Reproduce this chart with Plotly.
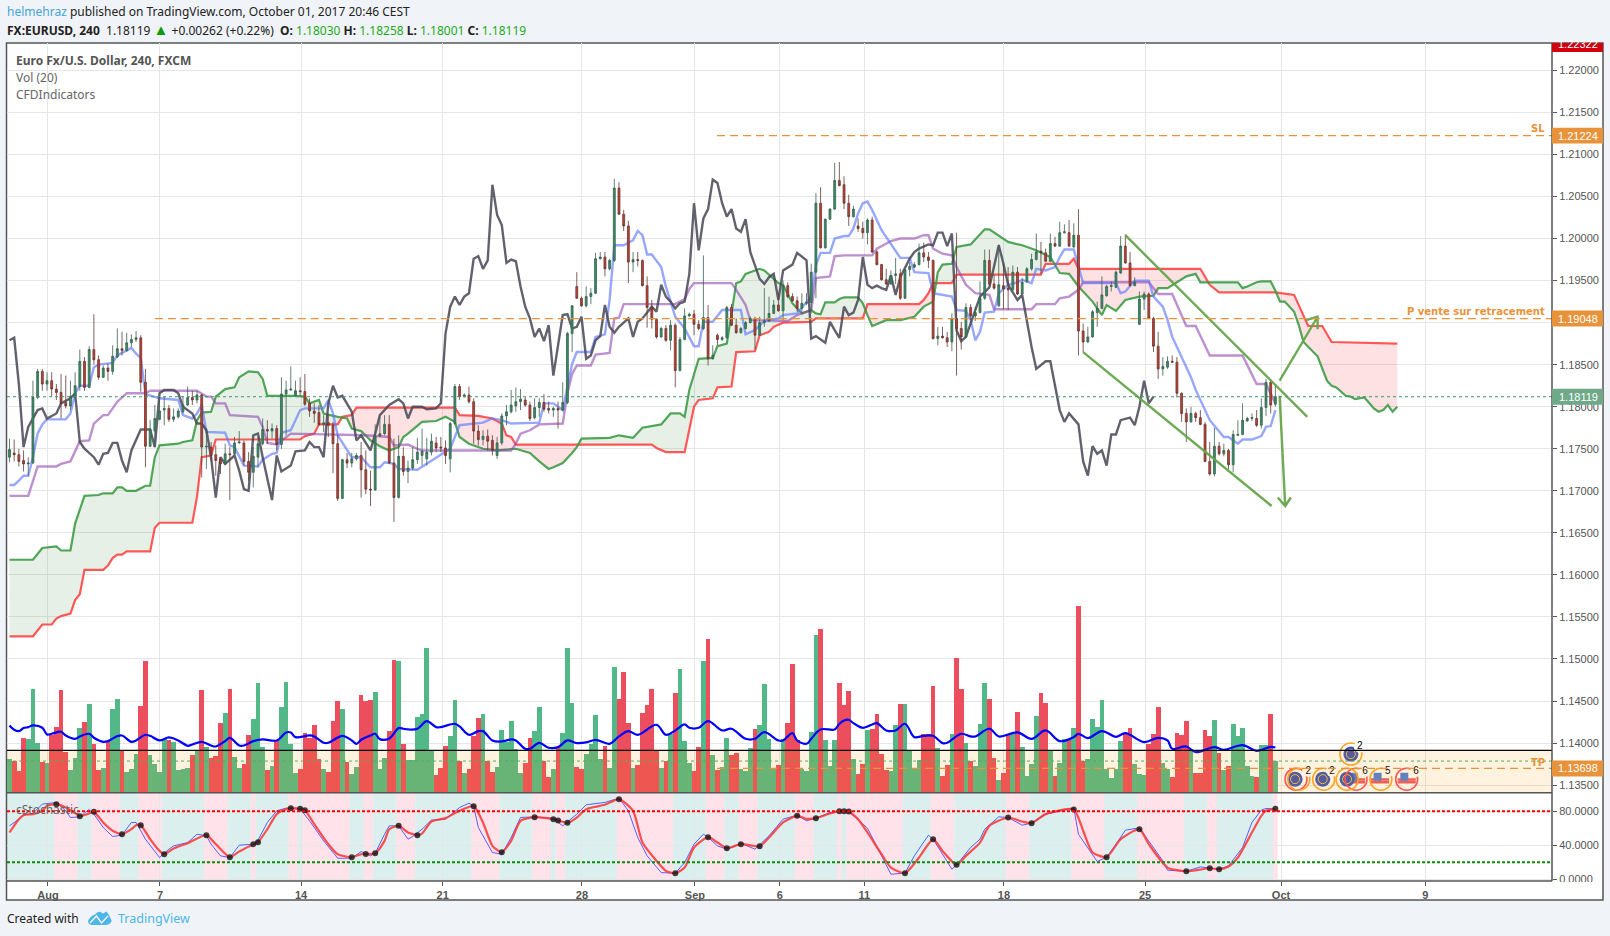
import numpy as np
import plotly.graph_objects as go

W = 1610
H = 936
# la capture comprime la page : la figure est un peu plus haute que la fenetre
FIG_H = 941
PAGE = '#f0f3f7'
GRID = '#e6e6e6'
FRAME = '#555555'
ORANGE = '#e8933a'

# bougies 240 min, prix en pips (11750 = 1.1750)
candle_open = [
    11740,11745,11743,11736,11732,11733,11811,11842,11827,11831,
    11821,11817,11805,11801,11812,11824,11854,11823,11868,11856,
    11835,11846,11842,11859,11869,11867,11876,11880,11882,11829,
    11753,11771,11785,11796,11798,11785,11788,11794,11802,11811,
    11808,11814,11752,11752,11743,11737,11732,11744,11744,11757,
    11757,11735,11722,11740,11756,11773,11771,11774,11755,11815,
    11820,11813,11819,11818,11804,11795,11793,11779,11781,11778,
    11756,11691,11737,11733,11738,11742,11725,11702,11701,11765,
    11768,11779,11733,11692,11741,11723,11727,11737,
    11742,11738,11746,11757,11752,11751,11738,11780,11824,11812,11814,11806,
    11771,11761,11765,11760,11742,11757,11789,11794,11801,11806,
    11808,11802,11787,11799,11805,11798,11796,11798,11796,11805,
    11887,11943,11929,11920,11931,11935,11976,11978,11964,11974,
    12060,12029,12015,11972,11975,11974,11944,11918,11904,11883,
    11893,11879,11897,11843,11880,11908,11910,11898,11893,11906,
    11857,11885,11880,11882,11918,11897,11888,11893,11900,11905,
    11885,11900,11902,11911,11921,11914,11944,11931,11926,11917,
    11923,11924,11960,12042,11989,12023,12035,12069,12064,12042,
    12026,12015,12012,12007,12022,11984,11969,11951,11946,11956,
    11958,11929,11963,11966,11969,11983,11978,11974,11881,11884,
    11882,11877,11905,11893,11883,11918,11908,11912,11929,11974,
    11946,11920,11944,11941,11939,11960,11934,11949,11964,11975,
    11985,11983,11973,11994,11991,12007,12007,11990,12004,11890,
    11877,11883,11912,11917,11932,11943,11942,11959,11991,11971,
    11944,11898,11928,11934,11905,11872,11845,11847,11854,11853,
    11816,11792,11782,11792,11787,11779,11735,11720,11753,11744,
    11748,11731,11766,11767,11783,11786,11786,11778,11799,11829,
    11803]
candle_close = [
    11749,11743,11735,11732,11733,11811,11842,11827,11831,11821,
    11817,11804,11801,11812,11825,11854,11823,11868,11856,11835,
    11846,11842,11860,11869,11867,11876,11880,11882,11829,11753,
    11773,11786,11795,11798,11785,11788,11795,11802,11811,11808,
    11814,11752,11753,11742,11736,11732,11744,11743,11757,11758,
    11735,11722,11741,11756,11773,11771,11774,11755,11815,11820,
    11821,11819,11818,11803,11795,11792,11779,11781,11778,11756,
    11691,11737,11733,11738,11742,11725,11702,11701,11765,11768,
    11779,11733,11692,11741,11723,11727,11737,11746,
    11747,11746,11759,11751,11751,11742,11780,11824,11812,11814,11806,11771,
    11761,11765,11759,11748,11757,11789,11794,11802,11806,11809,
    11802,11786,11799,11805,11797,11796,11798,11796,11805,11887,
    11920,11929,11920,11931,11935,11976,11978,11964,11974,12060,
    12029,12015,11972,11975,11974,11944,11918,11904,11883,11893,
    11879,11897,11843,11880,11908,11910,11898,11893,11906,11857,
    11861,11880,11882,11918,11897,11888,11893,11900,11905,11885,
    11900,11902,11911,11921,11914,11944,11931,11926,11917,11923,
    11924,11960,12042,11989,12023,12035,12069,12063,12042,12026,
    12035,12012,12007,12022,11984,11969,11951,11946,11956,11958,
    11929,11963,11967,11969,11983,11978,11974,11881,11884,11882,
    11877,11905,11893,11883,11918,11908,11912,11929,11974,11946,
    11941,11945,11940,11939,11960,11934,11948,11964,11975,11984,
    11983,11973,11994,11991,12007,12008,11991,12004,11890,11877,
    11883,11913,11917,11933,11943,11944,11960,11991,11971,11944,
    11948,11928,11934,11905,11872,11845,11848,11854,11853,11816,
    11792,11782,11792,11787,11779,11735,11720,11753,11744,11748,
    11731,11767,11767,11784,11786,11787,11778,11799,11829,11802,
    11812]
candle_high = [
    11762,11761,11750,11748,11740,11831,11845,11845,11841,11841,
    11827,11839,11837,11831,11841,11868,11859,11872,11910,11861,
    11849,11851,11873,11893,11889,11888,11886,11890,11885,11845,
    11784,11802,11808,11812,11802,11798,11798,11812,11824,11819,
    11819,11815,11774,11758,11754,11740,11756,11752,11764,11771,
    11760,11746,11752,11764,11786,11784,11780,11778,11835,11831,
    11848,11831,11835,11839,11810,11804,11802,11790,11790,11782,
    11766,11738,11745,11745,11745,11758,11748,11724,11779,11788,
    11790,11790,11762,11766,11752,11736,11752,11763,
    11774,11763,11768,11764,11764,11760,11782,11827,11827,11816,11824,11810,
    11778,11772,11773,11766,11764,11792,11802,11820,11823,11821,
    11812,11806,11810,11810,11815,11806,11800,11806,11829,11889,
    11921,11960,11931,11943,11941,11983,11984,11984,11976,12071,
    12067,12034,12021,11984,11984,11975,11955,11927,11905,11895,
    11897,11903,11899,11883,11917,11912,11915,11903,11980,11921,
    11873,11887,11884,11920,11922,11905,11895,11902,11907,11907,
    11907,11941,11931,11927,11935,11950,11948,11935,11931,11935,
    11935,11970,12054,12061,12024,12036,12090,12091,12074,12052,
    12039,12024,12020,12024,12026,11986,11970,11964,11962,11977,
    11964,11964,11972,11972,11994,11995,11984,11975,11895,11895,
    11889,11911,12007,11901,11923,11922,11919,11949,11987,11987,
    11957,11993,11970,11966,11968,11966,11953,11966,11982,12006,
    11996,11988,12006,12002,12020,12017,12022,12018,12035,11899,
    11895,11915,11925,11955,11945,11949,11962,12003,12005,11984,
    11954,11937,11937,11936,11907,11889,11859,11860,11861,11859,
    11817,11798,11800,11794,11796,11782,11758,11775,11758,11756,
    11750,11772,11784,11804,11788,11792,11796,11810,11833,11831,
    11826]
candle_low = [
    11734,11735,11729,11723,11718,11732,11809,11819,11819,11812,
    11808,11786,11798,11796,11811,11819,11819,11822,11850,11832,
    11834,11831,11838,11858,11861,11865,11871,11877,11818,11728,
    11752,11752,11784,11778,11782,11782,11786,11792,11801,11802,
    11804,11716,11726,11735,11718,11720,11731,11689,11743,11756,
    11730,11712,11704,11728,11754,11756,11762,11748,11750,11766,
    11819,11812,11813,11801,11788,11781,11777,11770,11764,11721,
    11688,11690,11727,11728,11736,11692,11696,11682,11700,11764,
    11766,11732,11663,11691,11718,11709,11725,11732,
    11730,11730,11742,11746,11746,11732,11722,11778,11808,11811,11804,11756,
    11754,11754,11748,11742,11738,11754,11778,11792,11794,11796,
    11800,11783,11785,11788,11794,11792,11788,11774,11795,11803,
    11865,11928,11919,11918,11922,11934,11975,11955,11962,11972,
    12028,12009,11947,11960,11967,11943,11894,11893,11881,11882,
    11877,11867,11823,11842,11879,11907,11885,11891,11891,11849,
    11856,11873,11878,11881,11896,11887,11887,11892,11899,11868,
    11884,11895,11901,11910,11913,11903,11929,11925,11913,11911,
    11921,11911,11929,11988,11988,12022,12034,12062,12035,12015,
    12025,12008,12000,11993,11983,11968,11950,11945,11945,11946,
    11927,11928,11955,11965,11968,11972,11965,11880,11873,11881,
    11871,11866,11837,11868,11882,11903,11902,11911,11927,11943,
    11939,11919,11916,11915,11938,11933,11933,11947,11962,11974,
    11958,11972,11972,11990,11990,12006,11990,11989,11861,11865,
    11876,11882,11895,11916,11931,11937,11941,11958,11970,11943,
    11943,11897,11915,11904,11865,11833,11837,11845,11852,11811,
    11782,11758,11781,11782,11778,11734,11718,11717,11742,11741,
    11726,11722,11765,11766,11782,11783,11776,11774,11789,11792,
    11800]

# volume (20)
volume = [
    100,96,64,163,160,310,148,91,88,172,196,307,121,67,103,193,211,265,145,67,
    73,154,250,280,124,61,70,115,259,394,112,85,61,160,157,151,67,72,75,112,
    127,307,136,103,109,208,238,310,106,73,85,172,220,328,136,67,79,154,256,331,
    145,58,70,178,163,202,100,70,61,214,274,250,91,55,76,292,274,277,301,70,
    103,184,397,394,145,97,97,226,235,433,129,52,73,139,169,277,94,58,70,169,
    223,235,94,61,76,187,151,214,130,58,88,163,184,256,94,46,70,137,178,433,
    268,76,70,115,145,232,100,139,73,376,280,361,208,73,82,238,262,310,127,73,
    96,175,298,370,154,88,64,136,394,460,112,67,76,163,112,118,72,64,133,190,
    202,325,160,72,82,162,208,385,157,70,65,181,472,490,157,79,157,328,
    262,304,100,55,85,187,190,235,115,67,64,202,265,265,124,70,97,175,175,319,
    133,49,82,175,403,310,148,94,79,205,328,280,103,37,58,172,177,241,136,49,
    85,229,298,268,124,49,88,160,162,193,559,96,100,220,196,277,70,43,70,154,
    178,193,85,55,52,145,175,256,88,70,46,178,172,214,127,58,58,187,169,217,
    118,67,79,205,169,193,79,49,46,144,144,237,96]

vol_ma_x = [0,1,2,3,4,5,7,8,9,11,12,14,15,17,18,20,21,23,24,26,27,29,30,32,34,36,38,39,41,43,44,46,47,49,50,52,54,57,59,60,61,64,65,67,68,71,73,74,75,77,78,79,81,83,84,85,87,
            89,91,92,95,96,98,100,101,103,105,107,108,110,111,113,115,117,119,121,123,125,128,130,132,134,138,140,142,144,145,147,149,152,154,157,159,161,164,165,167,168,170,171,173,176,177,
            178,179,180,182,184,185,187,189,191,193,195,197,199,200,203,205,206,209,211,215,218,221,224,227,228,230,233,236,238,242,245,247,248,251,253,257,259,263,266,269,270]
vol_ma_y = [202,189,185,194,197,202,195,175,177,183,172,162,169,177,165,153,155,170,172,153,157,174,171,157,166,157,141,145,153,142,139,155,165,142,142,155,160,157,181,181,167,172,169,150,150,171,157,147,159,172,177,161,163,194,192,190,192,
            215,197,197,207,199,174,185,185,157,154,160,157,132,132,150,135,137,157,149,151,159,147,169,185,174,204,174,187,205,195,195,215,187,192,162,162,182,157,157,179,157,147,162,190,190,207,
            217,219,209,195,205,209,187,187,207,167,171,171,149,150,177,169,169,192,169,181,162,187,155,167,177,164,185,168,179,152,165,157,132,139,122,137,129,143,126,138,136]

# ichimoku : tenkan, kijun, spans, chikou
tenkan_x = [0,1,2,3,4,5,6,7,8,12,13,14,15,17,18,19,22,23,26,27,28,29,32,36,37,39,40,41,42,46,47,48,50,53,54,56,57,58,60,62,63,67,68,69,70,73,75,77,79,80,82,83,87,
            94,96,99,101,103,105,107,113,114,116,118,120,121,124,125,127,128,129,131,133,134,135,136,137,139,140,142,144,146,147,148,150,152,156,157,159,161,164,165,168,171,172,173,175,176,
            178,179,180,181,182,183,184,186,188,190,192,193,196,197,201,202,204,205,206,207,208,210,211,213,215,216,218,219,221,223,224,225,227,228,229,236,237,238,240,243,244,246,247,248,250,252,253,255,256,259,260,262,263,265,267,268,269,270]
tenkan_y = [11707,11707,11712,11718,11718,11740,11768,11779,11785,11785,11792,11816,11825,11825,11847,11850,11852,11861,11870,11863,11858,11815,11810,11808,11790,11786,11792,11802,11770,11769,11754,11752,11730,11729,11737,11744,11745,11769,11772,11796,11798,11798,11808,11792,11766,11740,11740,11728,11728,11734,11732,11726,11725,
            11750,11778,11780,11781,11786,11784,11780,11781,11804,11804,11796,11851,11865,11865,11883,11886,11927,11992,11992,11998,12009,12004,11981,11981,11966,11943,11907,11893,11872,11872,11901,11901,11915,11915,11886,11891,11902,11905,11909,11911,11931,11968,11983,11983,12000,
            12003,12003,12012,12030,12042,12044,12034,12010,11994,11977,11977,11960,11959,11935,11931,11915,11914,11903,11879,11889,11912,11913,11935,11945,11948,11951,11947,11964,11962,11966,11978,11987,11987,11966,11947,11947,11935,11937,11950,11950,11931,11919,11903,11883,11859,11835,11820,11796,11784,11764,11764,11756,11761,11761,11765,11776,11777,11796]
kijun_x = [0,4,6,10,11,13,15,17,18,20,21,23,25,29,30,40,42,43,44,46,47,53,54,55,57,60,76,81,82,85,87,
           88,107,108,109,111,113,118,119,120,121,124,125,128,129,130,131,142,144,145,146,154,155,157,158,166,168,171,172,175,176,
           178,184,185,188,190,193,195,196,197,199,201,202,204,206,209,210,218,219,223,224,226,228,229,243,245,248,251,253,256,263,266,268,270]
kijun_y = [11694,11694,11729,11729,11732,11735,11759,11760,11780,11790,11790,11806,11816,11816,11819,11819,11812,11812,11804,11804,11790,11788,11776,11757,11755,11768,11766,11764,11754,11755,11750,
           11748,11748,11756,11768,11772,11779,11780,11816,11839,11849,11849,11862,11864,11905,11906,11922,11922,11928,11940,11947,11947,11939,11921,11903,11902,11909,11915,11953,11955,11979,
           11980,11980,11988,11997,12000,12000,12004,12004,11988,11982,11980,11966,11945,11935,11933,11916,11916,11922,11922,11929,11931,11939,11948,11948,11934,11934,11896,11896,11861,11861,11827,11827,11804]
span_b_x = [0,5,7,9,10,11,13,14,15,16,20,21,22,23,24,25,30,31,32,39,40,41,43,44,62,63,65,66,70,71,73,74,
            95,96,100,103,105,106,107,108,137,138,140,144,146,147,150,151,154,155,159,160,162,163,165,171,172,182,183,194,195,196,197,201,202,220,221,226,227,228,254,256,258,270,274,277,280,282,296]
span_b_y = [11527,11527,11541,11541,11548,11551,11554,11570,11577,11606,11606,11611,11620,11624,11624,11628,11628,11656,11662,11662,11693,11740,11742,11761,11761,11765,11768,11779,11779,11788,11790,11799,
            11799,11790,11789,11786,11780,11766,11764,11755,11755,11751,11746,11746,11800,11808,11810,11823,11824,11865,11866,11885,11889,11895,11900,11901,11905,11905,11922,11922,11927,11935,11947,11947,11957,11957,11970,11970,11976,11964,11964,11945,11936,11936,11933,11896,11896,11877,11875]
span_a_x = [0,5,7,10,11,13,14,16,19,20,22,23,24,25,27,29,30,31,32,36,37,39,40,41,43,44,46,48,49,51,53,54,55,61,63,64,66,67,70,72,73,75,77,79,81,83,84,85,88,
            91,93,95,96,98,101,104,108,111,113,115,116,118,120,121,122,128,130,133,135,139,141,143,144,145,147,150,151,153,155,156,157,160,161,164,165,167,169,171,172,173,174,176,177,
            178,181,182,183,184,187,190,193,195,197,198,199,201,202,205,208,209,213,216,219,221,222,224,226,228,231,233,234,236,238,241,244,245,247,251,253,254,262,263,264,266,267,269,270,271,272,274,275,276,279,281,282,283,285,286,287,289,291,292,293,294,295,296]
span_a_y = [11618,11618,11632,11634,11629,11629,11661,11694,11695,11697,11697,11704,11704,11700,11700,11706,11706,11740,11754,11756,11758,11760,11784,11793,11794,11812,11821,11823,11835,11842,11841,11833,11813,11813,11812,11804,11808,11792,11788,11786,11774,11771,11760,11753,11748,11752,11764,11768,11782,
            11783,11788,11782,11764,11756,11750,11748,11750,11745,11735,11726,11728,11733,11745,11752,11762,11763,11766,11763,11775,11779,11792,11792,11788,11820,11857,11858,11872,11875,11947,11949,11958,11964,11962,11947,11945,11923,11911,11915,11911,11910,11924,11924,11928,
            11930,11930,11923,11909,11896,11903,11903,11907,11919,11925,11960,11969,11970,11990,11993,12011,12011,11996,11992,11986,11980,11978,11959,11958,11943,11925,11909,11921,11914,11927,11931,11932,11941,11941,11955,11958,11948,11948,11941,11943,11948,11949,11949,11938,11925,11925,11913,11897,11877,11860,11831,11825,11823,11813,11812,11809,11811,11798,11794,11796,11802,11794,11800]
chikou_x = [0,1,2,3,4,6,7,8,10,11,13,14,15,16,18,19,20,21,22,23,24,25,26,28,30,31,32,33,35,36,37,39,40,41,42,43,44,45,46,48,49,50,51,52,53,54,56,57,58,60,61,63,64,65,66,67,68,69,70,71,73,74,75,77,78,79,81,83,84,85,86,88,
            89,91,92,93,94,95,96,97,98,99,100,101,102,103,104,105,106,107,108,109,110,111,112,113,114,115,116,118,119,120,121,122,123,124,125,126,127,128,129,130,132,133,134,135,137,138,139,140,141,142,143,144,145,146,147,148,149,150,151,152,153,154,155,156,157,158,159,160,161,162,163,164,165,167,168,170,171,172,174,175,176,177,
            178,179,180,181,182,183,184,185,186,187,188,189,190,192,193,194,196,197,198,199,200,201,202,203,204,206,207,209,211,212,213,215,216,218,219,221,222,224,225,226,228,229,230,231,232,233,234,235,236,237,239,240,241,242,243,244]
chikou_y = [11879,11882,11827,11752,11776,11796,11798,11786,11792,11804,11810,11816,11758,11750,11740,11731,11744,11745,11757,11757,11736,11722,11748,11773,11773,11752,11816,11820,11820,11816,11800,11792,11780,11780,11772,11740,11692,11740,11732,11742,11724,11702,11700,11766,11768,11740,11689,11742,11723,11730,11747,11748,11758,11752,11752,11740,11804,11825,11811,11813,11794,11760,11766,11748,11768,11790,11802,11809,11804,11786,11800,11800,
            11797,11798,11804,11887,11919,11931,11921,11931,11935,11976,11979,11964,11974,12064,12028,12016,11971,11975,11973,11943,11919,11905,11883,11893,11878,11897,11837,11909,11910,11893,11895,11907,11857,11861,11879,11884,11921,11895,11888,11895,11905,11883,11901,11905,11919,11913,11945,11931,11925,11917,11923,11925,11958,12042,11986,12024,12035,12070,12066,12042,12026,12035,12012,12008,12023,11984,11968,11952,11946,11954,11958,11927,11962,11969,11983,11974,11881,11884,11876,11901,11891,11882,
            11919,11909,11912,11927,11978,11945,11941,11944,11941,11939,11956,11933,11954,11976,11984,11988,11993,11992,12007,12007,11991,12006,11891,11878,11883,11915,11931,11942,11992,11970,11945,11927,11933,11871,11845,11854,11854,11796,11782,11792,11779,11735,11718,11753,11744,11748,11730,11767,11767,11784,11787,11778,11800,11831,11804,11812]

# stochastique
k_x = [0,2,3,5,7,10,12,13,15,17,18,20,22,24,26,27,29,32,34,35,38,40,42,43,45,47,49,52,53,55,57,59,62,64,67,70,73,75,77,78,80,81,83,85,86,
       88,90,93,96,98,99,100,103,105,107,109,112,116,118,121,123,127,130,132,134,136,139,142,144,146,148,149,151,153,156,159,162,165,168,170,172,175,177,
       178,179,183,188,191,193,196,197,201,202,205,207,208,211,213,216,218,221,227,228,232,234,236,238,241,246,247,251,254,258,260,263,265,267,268,270]
k_y = [62.7,70.6,75.7,77.3,88.2,90.2,80.4,72.5,73.3,82,76.5,60.8,50.2,51.8,66.7,66.7,47.1,25.5,35.3,39.2,43.1,52.9,51,41.2,27.5,25.5,40,41.2,45.9,66.7,80.4,83.5,82.4,68.6,45.1,24.7,24.7,32.5,27.5,30.6,52.9,62.7,62.7,47.1,50.2,
       58.8,69.4,70.6,84.3,89.4,85.9,60.8,31.4,29.4,49,72.5,73.3,71.4,62.7,76.5,87.5,90.2,95.3,80.4,49,27.5,7.8,7.1,19.6,41.2,52.9,49.4,39.2,35.3,42.4,35.3,51,70.6,75.3,68.6,71.8,78.4,80,
       80,79.6,60,5.9,7.1,27.5,51.8,47.1,11.8,16.9,37.3,47.1,58.8,73.3,72.5,63.5,65.9,76.5,83.5,52.9,20.8,25.9,41.2,57.6,60.4,21.6,10.6,9.4,14.5,11.8,15.7,37.3,66.7,81.2,83.1,82.7]
d_x = [0,2,3,5,7,8,10,12,14,15,17,18,20,22,24,26,27,28,30,32,33,35,38,42,44,47,49,52,53,55,57,59,60,62,63,65,68,70,73,75,78,80,81,83,85,87,
       88,90,93,96,99,101,103,105,107,109,112,116,117,119,121,123,127,130,133,135,138,140,142,144,146,149,151,153,156,160,162,165,168,170,172,175,177,
       178,179,181,183,186,188,191,194,197,199,202,204,207,209,213,216,218,221,227,229,231,234,237,241,243,247,251,256,258,260,262,265,267,268,270]
d_y = [54.9,70.6,75.3,76.5,80.4,86.3,88.2,84.3,77.6,74.1,77.3,79.2,66.7,56.9,52.9,58.8,63.5,63.5,47.1,33.3,29.4,36.1,42.4,51.8,41.2,25.9,32.5,41.2,43.5,58.8,76.5,82.4,83.5,82.7,81.2,64.7,41.2,29.4,25.9,29.4,30.6,45.1,58.8,62.7,54.9,51.8,
       53.7,67.8,71.8,80.4,85.9,66.7,39.2,31.8,45.1,68.6,72.9,70.6,69,66.3,72.5,82.4,87.5,94.1,80.4,43.1,21.6,9.8,7.1,13.7,37.3,49.4,43.1,36.5,41.2,38.8,49,66.7,74.5,71,71.8,77.3,80,
       80,79.6,70.6,54.9,29.4,13.7,7.1,25.5,47.1,33.3,16.9,27.5,43.1,62.7,72.5,67.8,65.9,76.5,82,56.9,31.4,25.9,47.1,58.8,41.2,13.7,9.4,12.9,11.8,15,25.5,54.9,74.5,80.4,82.7]
cross_bars = [10,15,18,24,28,33,42,47,52,53,60,62,63,73,76,78,83,87,99,105,112,116,117,119,130,142,149,153,156,160,168,172,177,178,179,191,197,202,213,218,227,234,241,251,256,258,270]
# bandes de fond (bleu/rose en alternance)
stripe_edges = [-0.5,9.5,14.5,17.5,23.5,27.5,32.5,41.5,46.5,51.5,52.5,59.5,61.5,62.5,72.5,75.5,77.5,82.5,86.5,98.5,104.5,111.5,115.5,116.5,118.5,129.5,141.5,148.5,152.5,155.5,159.5,167.5,171.5,176.5,177.5,178.5,190.5,196.5,201.5,212.5,217.5,226.5,233.5,240.5,250.5,255.5,257.5,269.5,270.5]

# dessins
upper_trend_x = [238, 276.8]
upper_trend_y = [12004, 11788]
lower_trend_x = [229, 269.2]
lower_trend_y = [11865, 11682]
arrow_up_x = [270.9, 279, 276.5, 279, 279]
arrow_up_y = [11831, 11907, 11903, 11907, 11892]
arrow_down_x = [270.9, 272.1, 270.5, 272.1, 273.3]
arrow_down_y = [11813, 11682, 11692, 11682, 11692]

SL = 1.21224
ENTRY = 1.19048
TP = 1.13698
LAST = 1.18119
HIGH_LABEL = 1.22322
VOL_LINE = 1.13912
VOL_DOT = 1.13786

tick_bars = [8.2, 32.1, 62.2, 92.4, 122.1, 146.2, 164.3, 182.3, 212.1, 242.2, 271.2, 302]
tick_names = ['Aug', '7', '14', '21', '28', 'Sep', '6', '11', '18', '25', 'Oct', '9']
price_ticks = [1.135 + 0.005 * n for n in range(18)]
# 1.19000 est cache par l'etiquette 1.19048 dans l'original
price_tick_text = ['' if abs(t - 1.19) < 1e-6 else f'{t:.5f}' for t in price_ticks]

# calendrier economique
eu_x = [274.2, 280.1, 285.3, 286.1]
eu_y = [1.13571, 1.13571, 1.13571, 1.13869]
us_x = [287.2, 292.3, 298]
us_y = [1.13571, 1.13571, 1.13571]
ring_red_x = [274.4, 287.2, 298]
ring_red_y = [1.13571, 1.13571, 1.13571]
ring_orange_x = [275, 280.3, 285.3, 292.5, 286.1]
ring_orange_y = [1.13571, 1.13571, 1.13571, 1.13571, 1.13869]
badge_x = [277, 282.1, 289.1, 294, 300, 288]
badge_y = [1.13667, 1.13667, 1.13667, 1.13667, 1.13667, 1.13957]
badge_text = ['2', '2', '6', '5', '6', '2']


def px(x):
    return x / W


def py(y):
    return 1 - y / H


def price(values):
    return np.array(values) / 10000


bars = np.arange(len(candle_open))
up = np.array(candle_close) >= np.array(candle_open)
X_RANGE = [-0.53, 329]
PRICE_RANGE = [1.13408, 1.22325]

fig = go.Figure()

# nuage
grid = np.arange(0, 296.01, 0.25)
edge_a = np.interp(grid, span_a_x, price(span_a_y))
edge_b = np.interp(grid, span_b_x, price(span_b_y))
above = edge_a >= edge_b
start = 0
for n in range(1, len(grid) + 1):
    if n == len(grid) or above[n] != above[start]:
        part = np.arange(start, min(n + 1, len(grid)))
        fig.add_trace(go.Scatter(
            x=np.r_[grid[part], grid[part][::-1]],
            y=np.r_[edge_a[part], edge_b[part][::-1]],
            mode='none', fill='toself', hoverinfo='skip', showlegend=False,
            fillcolor='rgba(76,150,76,0.14)' if above[start] else 'rgba(244,67,80,0.16)'))
        start = n

lines = [
    (span_b_x, span_b_y, 'rgba(255,60,60,0.85)', 2.2),
    (span_a_x, span_a_y, 'rgba(50,150,60,0.85)', 2.2),
    (kijun_x, kijun_y, 'rgba(145,70,175,0.6)', 2.4),
    (tenkan_x, tenkan_y, 'rgba(95,120,255,0.65)', 2.4),
    (chikou_x, chikou_y, 'rgba(70,70,85,0.85)', 2.4),
]
for lx, ly, col, lw in lines:
    fig.add_trace(go.Scatter(x=lx, y=price(ly), mode='lines', line=dict(color=col, width=lw),
                             hoverinfo='skip', showlegend=False))

# volume
fig.add_trace(go.Bar(x=bars, y=volume, width=1, yaxis='y3', hoverinfo='skip', showlegend=False,
                     marker=dict(color=np.where(up, '#52b888', '#ec4e5e').tolist(), line_width=0)))
fig.add_trace(go.Scatter(x=vol_ma_x, y=vol_ma_y, yaxis='y3', mode='lines', hoverinfo='skip', showlegend=False,
                         line=dict(color='#0000ff', width=2.2, shape='spline')))

# bougies au dessus des lignes
fig.add_trace(go.Candlestick(x=bars, open=price(candle_open), high=price(candle_high),
                             low=price(candle_low), close=price(candle_close), yaxis='y4',
                             increasing=dict(line=dict(color='#3d5f50', width=0.8), fillcolor='#2f9065'),
                             decreasing=dict(line=dict(color='#5f3a34', width=0.8), fillcolor='#d0392c'),
                             whiskerwidth=0, hoverinfo='skip', showlegend=False))

# lignes de tendance et fleches
for lx, ly in [(upper_trend_x, upper_trend_y), (lower_trend_x, lower_trend_y),
               (arrow_up_x, arrow_up_y), (arrow_down_x, arrow_down_y)]:
    fig.add_trace(go.Scatter(x=lx, y=price(ly), yaxis='y4', mode='lines', hoverinfo='skip', showlegend=False,
                             line=dict(color='rgba(100,165,75,0.95)', width=2.4)))

# stochastique
fig.add_trace(go.Scatter(x=k_x, y=k_y, yaxis='y2', mode='lines', hoverinfo='skip', showlegend=False,
                         line=dict(color='rgba(60,70,255,0.85)', width=1)))
fig.add_trace(go.Scatter(x=d_x, y=d_y, yaxis='y2', mode='lines', hoverinfo='skip', showlegend=False,
                         line=dict(color='rgba(255,50,50,0.85)', width=2.2, shape='spline', smoothing=0.6)))
fig.add_trace(go.Scatter(x=cross_bars, y=np.interp(cross_bars, d_x, d_y), yaxis='y2', mode='markers',
                         hoverinfo='skip', showlegend=False,
                         marker=dict(color='rgba(20,20,20,0.8)', size=6)))

# icones
fig.add_trace(go.Scatter(x=us_x, y=us_y, yaxis='y4', mode='markers', hoverinfo='skip', showlegend=False,
                         marker=dict(color='white', size=16)))
for shift in (-0.00005, -0.00038):
    fig.add_trace(go.Scatter(x=us_x, y=np.array(us_y) + shift, yaxis='y4', mode='markers', hoverinfo='skip',
                             showlegend=False,
                             marker=dict(symbol='line-ew', size=13, line=dict(color='#ef5560', width=2.5))))
fig.add_trace(go.Scatter(x=np.array(us_x) - 0.5, y=np.array(us_y) + 0.00028, yaxis='y4', mode='markers',
                         hoverinfo='skip', showlegend=False,
                         marker=dict(color='#4a7fd6', symbol='square', size=8)))
fig.add_trace(go.Scatter(x=eu_x, y=eu_y, yaxis='y4', mode='markers', hoverinfo='skip', showlegend=False,
                         marker=dict(color='#3f51b5', size=15)))
fig.add_trace(go.Scatter(x=eu_x, y=eu_y, yaxis='y4', mode='markers', hoverinfo='skip', showlegend=False,
                         marker=dict(color='rgba(0,0,0,0)', size=9, line=dict(color='#e0c850', width=1))))
fig.add_trace(go.Scatter(x=ring_red_x, y=ring_red_y, yaxis='y4', mode='markers', hoverinfo='skip', showlegend=False,
                         marker=dict(symbol='circle-open', color='#ff4a68', size=22, line=dict(width=1.5))))
fig.add_trace(go.Scatter(x=ring_orange_x, y=ring_orange_y, yaxis='y4', mode='markers', hoverinfo='skip', showlegend=False,
                         marker=dict(symbol='circle-open', color='#ffa726', size=22, line=dict(width=1.5))))
fig.add_trace(go.Scatter(x=badge_x, y=badge_y, yaxis='y4', mode='markers+text', text=badge_text,
                         textposition='middle center', hoverinfo='skip', showlegend=False,
                         textfont=dict(family='Liberation Sans', size=10, color='black'),
                         marker=dict(color='white', size=12)))

shapes = [
    # cadre
    dict(type='rect', xref='paper', yref='paper', x0=px(6.5), x1=px(1603), y0=py(899), y1=py(43),
         fillcolor='white', line=dict(color=FRAME, width=1.5), layer='below'),
]
for n in range(len(stripe_edges) - 1):
    shapes.append(dict(type='rect', xref='x', yref='y2 domain', x0=stripe_edges[n], x1=stripe_edges[n + 1],
                       y0=0, y1=1, layer='below', line_width=0,
                       fillcolor='rgba(0,150,136,0.14)' if n % 2 == 0 else 'rgba(255,82,130,0.17)'))
shapes += [
    dict(type='rect', xref='x', yref='y', x0=X_RANGE[0], x1=X_RANGE[1], y0=PRICE_RANGE[0], y1=VOL_LINE,
         fillcolor='rgba(255,152,0,0.13)', line_width=0, layer='above'),
    dict(type='line', xref='x', yref='y', x0=X_RANGE[0], x1=X_RANGE[1], y0=VOL_LINE, y1=VOL_LINE,
         line=dict(color='black', width=1.2), layer='above'),
    dict(type='line', xref='x', yref='y', x0=X_RANGE[0], x1=X_RANGE[1], y0=VOL_DOT, y1=VOL_DOT,
         line=dict(color='#4caf60', width=1, dash='dot'), layer='above'),
    dict(type='line', xref='x', yref='y', x0=X_RANGE[0], x1=X_RANGE[1], y0=LAST, y1=LAST,
         line=dict(color='#3f9a6e', width=1, dash='dot'), layer='above'),
    dict(type='line', xref='x', yref='y', x0=150.9, x1=X_RANGE[1], y0=SL, y1=SL,
         line=dict(color=ORANGE, width=1.3, dash='8px,5px'), layer='above'),
    dict(type='line', xref='x', yref='y', x0=31, x1=X_RANGE[1], y0=ENTRY, y1=ENTRY,
         line=dict(color=ORANGE, width=1.3, dash='8px,5px'), layer='above'),
    dict(type='line', xref='x', yref='y', x0=150.9, x1=X_RANGE[1], y0=TP, y1=TP,
         line=dict(color=ORANGE, width=1.3, dash='8px,5px'), layer='above'),
    dict(type='line', xref='x', yref='y2', x0=X_RANGE[0], x1=X_RANGE[1], y0=80, y1=80,
         line=dict(color='#ff0000', width=2, dash='3px,2px'), layer='above'),
    dict(type='line', xref='x', yref='y2', x0=X_RANGE[0], x1=X_RANGE[1], y0=20, y1=20,
         line=dict(color='#0a8a0a', width=2, dash='3px,2px'), layer='above'),
    # separations
    dict(type='line', xref='paper', yref='paper', x0=px(6.5), x1=px(1552), y0=py(792), y1=py(792),
         line=dict(color=FRAME, width=1.5), layer='above'),
    dict(type='line', xref='paper', yref='paper', x0=px(6.5), x1=px(1552), y0=py(880), y1=py(880),
         line=dict(color=FRAME, width=1.5), layer='above'),
    dict(type='line', xref='paper', yref='paper', x0=px(1552), x1=px(1552), y0=py(880), y1=py(43),
         line=dict(color=FRAME, width=1.5), layer='above'),
]
annotations = []

# etiquettes de prix
label_half = 0.00095
for value, col in [(SL, ORANGE), (ENTRY, ORANGE), (LAST, '#6fa98a'), (TP, ORANGE)]:
    shapes.append(dict(type='rect', xref='paper', yref='y', x0=px(1552), x1=px(1603),
                       y0=value - label_half, y1=value + label_half, fillcolor=col, line_width=0, layer='above'))
    annotations.append(dict(xref='paper', yref='y', x=px(1578), y=value, text=f'{value:.5f}', showarrow=False,
                            xanchor='center', yanchor='middle',
                            font=dict(family='Liberation Sans', size=11, color='white')))
shapes.append(dict(type='rect', xref='paper', yref='paper', x0=px(1552), x1=px(1603), y0=py(52), y1=py(43),
                   fillcolor='#d0000f', line_width=0, layer='above'))
annotations.append(dict(xref='paper', yref='paper', x=px(1578), y=py(43.5), text=f'{HIGH_LABEL:.5f}', showarrow=False,
                        xanchor='center', yanchor='middle',
                        font=dict(family='Liberation Sans', size=11, color='white')))

# coupe le 0.0000 en bas de l'echelle
shapes.append(dict(type='rect', xref='paper', yref='paper', x0=px(1553), x1=px(1602), y0=py(898), y1=py(881),
                   fillcolor='white', line_width=0, layer='above'))

# logo tradingview
logo = 'M {} {} Q {} {} {} {} Q {} {} {} {} L {} {} Q {} {} {} {} Q {} {} {} {} L {} {} Q {} {} {} {} Z'.format(
    px(88), py(920), px(90), py(915), px(95), py(913.5), px(98.5), py(908.5), px(103), py(912.5), px(106.7), py(910.5),
    px(110), py(915), px(111.7), py(920), px(110), py(924), px(105), py(924), px(91.7), py(924), px(88), py(923.3), px(88), py(920))
shapes.append(dict(type='path', xref='paper', yref='paper', path=logo, fillcolor='#4db6e8', line_width=0, layer='above'))
zigzag = 'M {} {} L {} {} L {} {} L {} {}'.format(px(90), py(922), px(96.5), py(915), px(101.5), py(922), px(108), py(915))
shapes.append(dict(type='path', xref='paper', yref='paper', path=zigzag, line=dict(color=PAGE, width=1.4), layer='above'))


def note(x, y, text, size=12, color='#555555', family='Noto Sans', anchor='left'):
    annotations.append(dict(xref='paper', yref='paper', x=px(x), y=py(y), text=text, showarrow=False,
                            xanchor=anchor, yanchor='middle',
                            font=dict(family=family, size=size, color=color)))


GREEN_TXT = '#22ab22'
SP = '\u00a0'
note(4.5, 11, '<span style="color:#42a5d8">helmehraz</span> published on TradingView.com, October 01, 2017 20:46 CEST',
     color='#222222')
note(4.5, 29, f'<b>FX:EURUSD, 240</b>{SP}{SP}1.18119{SP}<span style="color:#0a9a0a;font-size:15px">▲</span>{SP}+0.00262 (+0.22%){SP}{SP}'
     f'<b>O:</b>{SP}<span style="color:{GREEN_TXT}">1.18030</span>{SP}<b>H:</b>{SP}<span style="color:{GREEN_TXT}">1.18258</span>{SP}'
     f'<b>L:</b>{SP}<span style="color:{GREEN_TXT}">1.18001</span>{SP}<b>C:</b>{SP}<span style="color:{GREEN_TXT}">1.18119</span>',
     color='#222222')
note(14, 60.5, '<b>Euro Fx/U.S. Dollar, 240, FXCM</b>', color='#555555')
note(14, 77.5, 'Vol (20)', color='#666666')
note(14, 94.5, 'CFDIndicators', color='#666666')
note(14, 809, 'cStochastic', color='#666666')
note(1547, 128, '<b>SL</b>', size=10, color=ORANGE, family='DejaVu Sans', anchor='right')
note(1547, 311.5, '<b>P vente sur retracement</b>', size=10, color=ORANGE, family='DejaVu Sans', anchor='right')
note(1547, 761.5, '<b>TP</b>', size=10, color=ORANGE, family='DejaVu Sans', anchor='right')
note(4.5, 918, 'Created with', size=12, color='#222222')
note(116, 918, 'TradingView', size=12.5, color='#4db6e8')

axis_font = dict(family='Liberation Sans', size=11, color='#555555')
fig.update_layout(
    width=W, height=FIG_H, margin=dict(l=0, r=0, t=0, b=0),
    paper_bgcolor=PAGE, plot_bgcolor='white', showlegend=False, barmode='overlay', bargap=0, boxgap=0.42,
    shapes=shapes, annotations=annotations,
    xaxis=dict(domain=[px(7), px(1552)], range=X_RANGE, anchor='y2', tickmode='array', tickvals=tick_bars,
               ticktext=[f'<b>{t}</b>' for t in tick_names], tickfont=axis_font, showgrid=True, gridcolor=GRID,
               ticks='outside', ticklen=4, tickcolor=FRAME, zeroline=False, rangeslider=dict(visible=False)),
    yaxis=dict(domain=[py(792), py(43)], range=PRICE_RANGE, side='right', anchor='x', tickmode='array',
               tickvals=price_ticks, ticktext=price_tick_text, tickfont=axis_font, showgrid=True, gridcolor=GRID,
               ticks='outside', ticklen=4, tickcolor=FRAME, zeroline=False),
    yaxis2=dict(domain=[py(880), py(792)], range=[-2, 101.5], side='right', anchor='x', tickmode='array',
                tickvals=[0, 40, 80], ticktext=['0.0000', '40.0000', '80.0000'], tickfont=axis_font,
                showgrid=True, gridcolor=GRID, ticks='outside', ticklen=4, tickcolor=FRAME, zeroline=False),
    yaxis3=dict(overlaying='y', range=[0, 2247], visible=False, anchor='x'),
    yaxis4=dict(overlaying='y', range=PRICE_RANGE, visible=False, anchor='x'),
)

page_js = (
    f"var r=document.documentElement.style;r.height='{FIG_H}px';r.overflow='hidden';"
    f"var b=document.body.style;b.margin='0';b.height='{FIG_H}px';b.overflow='hidden';"
    f"b.background='{PAGE}';"
)
fig.write_html('out.html', config=dict(displayModeBar=False), post_script=page_js)
